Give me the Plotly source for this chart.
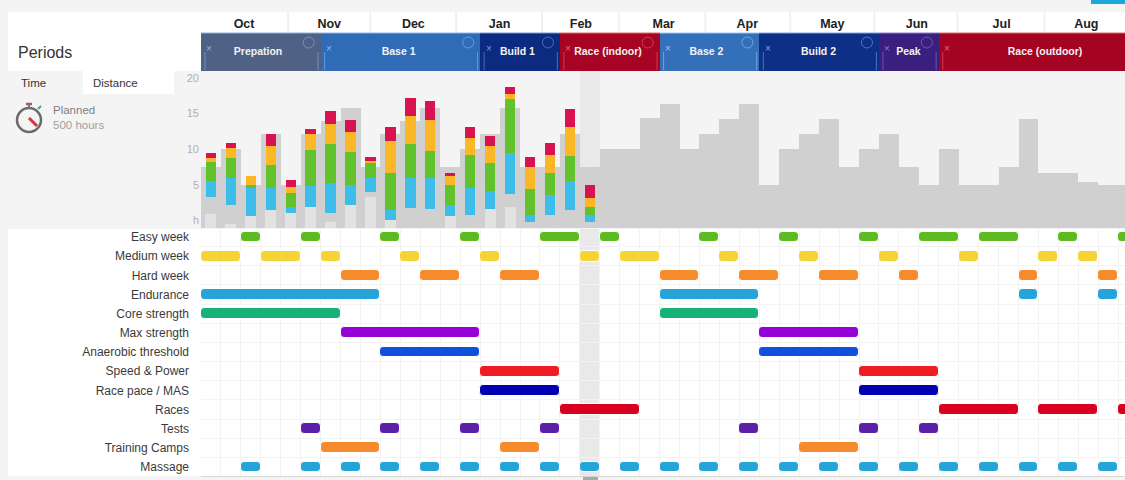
import numpy as np
import plotly.graph_objects as go

# ---------- data ----------
months = ["Oct", "Nov", "Dec", "Jan", "Feb", "Mar", "Apr", "May", "Jun", "Jul", "Aug"]
month_centers = [2.16, 6.43, 10.65, 14.97, 19.05, 23.2, 27.4, 31.66, 35.9, 40.15, 44.4]
month_breaks = [4.37, 8.49, 12.8, 17.1, 20.95, 25.3, 29.55, 33.77, 37.94, 42.3]

period_names = ["Prepation", "Base 1", "Build 1", "Race (indoor)", "Base 2", "Build 2", "Peak", "Race (outdoor)"]
period_start = [0, 6, 14, 18, 23, 28, 34, 37]
period_end = [6, 14, 18, 23, 28, 34, 37, 47.7]
period_label_x = [2.86, 9.91, 15.87, 20.41, 25.35, 30.97, 35.48, 42.33]
period_colors = ["#4f6285", "#2f6bb6", "#0c2b80", "#a60422", "#3470ba", "#0d2f85", "#3a1f7e", "#a40322"]
period_edges = ["#8fb0dc", "#8fb8e8", "#6f9ce0", "#e06a70", "#9fc4ef", "#7fa4e4", "#8a7cd0", "#e06a70"]

planned = [7.5, 10, 5, 12.2, 5, 12.2, 14, 15.8, 7.5, 12.2, 14, 15.8, 7.5, 10, 12.2, 15.8,
           7.5, 7.5, 12.2, 7.5, 10, 10, 14.4, 16.4, 10, 12.2, 14.2, 16.4, 5, 10, 12.2, 14.2,
           7.5, 10, 12.2, 7.5, 5, 10, 5, 5, 7.5, 14.2, 6.6, 6.6, 5.4, 5, 5]
undershade = [0.9, -0.5, 0.6, 1.4, 1.0, 1.9, -0.3, 2.1, 3.3, 0.0, -1.1, -1.1, 0.6, -1.1, 1.6, 1.9,
              -1.1, -1.1, -1.1, -1.1]

offset = [3.2, 2.1, 0.6, 1.4, 1.0, 1.9, 1.0, 2.1, 3.9, 0.0, 1.7, 1.6, 0.6, 0.7, 1.6, 3.7, -0.3, 0.7, 1.4, -0.3]
blue = [2.3, 3.9, 3.9, 3.1, 0.8, 2.9, 4.3, 2.9, 2.1, 1.4, 4.3, 4.4, 1.5, 3.8, 2.5, 5.8, 1.1, 2.8, 4.1, 1.1]
green = [2.7, 2.7, 0.5, 3.3, 2.0, 5.1, 5.4, 4.6, 2.1, 5.2, 4.7, 3.7, 2.8, 4.7, 3.9, 7.6, 3.6, 3.1, 3.5, 1.1]
yellow = [0.5, 1.5, 1.2, 2.6, 0.9, 2.2, 2.8, 2.8, 0.3, 4.5, 4.0, 4.4, 1.3, 2.3, 2.4, 0.6, 3.1, 2.6, 4.1, 1.2]
crimson = [0.7, 0.7, 0.0, 1.7, 0.9, 0.8, 1.8, 1.7, 0.5, 2.0, 2.5, 2.7, 0.5, 1.6, 1.5, 1.0, 1.4, 1.6, 2.6, 1.9]

rows = ["Easy week", "Medium week", "Hard week", "Endurance", "Core strength", "Max strength",
        "Anaerobic threshold", "Speed & Power", "Race pace / MAS", "Races", "Tests", "Training Camps", "Massage"]
row_colors = ["#5cbb20", "#f6d335", "#f68a2c", "#25a4da", "#14b277", "#9500d6", "#0f50dc",
              "#f01c22", "#0000b2", "#d9001f", "#5a20a8", "#f68a2c", "#25a4da"]
row_spans = [
    [(2, 3), (5, 6), (9, 10), (13, 14), (17, 19), (20, 21), (25, 26), (29, 30), (33, 34), (36, 38), (39, 41), (43, 44), (46, 47)],
    [(0, 2), (3, 5), (6, 7), (10, 11), (14, 15), (19, 20), (21, 23), (26, 27), (30, 31), (34, 35), (38, 39), (42, 43), (44, 45)],
    [(7, 9), (11, 13), (15, 17), (23, 25), (27, 29), (31, 33), (35, 36), (41, 42), (45, 46)],
    [(0, 9), (23, 28), (41, 42), (45, 46)],
    [(0, 7), (23, 28)],
    [(7, 14), (28, 33)],
    [(9, 14), (28, 33)],
    [(14, 18), (33, 37)],
    [(14, 18), (33, 37)],
    [(18, 22), (37, 41), (42, 45), (46, 47)],
    [(5, 6), (9, 10), (13, 14), (17, 18), (27, 28), (33, 34), (36, 37)],
    [(6, 9), (15, 17), (30, 33)],
    [(2, 3), (5, 6), (7, 8), (9, 10), (11, 12), (13, 14), (15, 16), (17, 18), (19, 20), (21, 22), (23, 24),
     (25, 26), (27, 28), (29, 30), (31, 32), (33, 34), (35, 36), (37, 38), (39, 40), (41, 42), (43, 44), (45, 46)],
]

y_ticks = [0, 5, 10, 15, 20]
y_tick_text = ["h", "5", "10", "15", "20"]

# ---------- helpers ----------
W, H = 1125, 480
Y_FLOOR = -1.1
X_MAX = 46.34
FONT = "Liberation Sans, Arial, sans-serif"


def px(x):
    return x / W


def py(y):
    return 1 - y / H


def rect(x0, y0, x1, y1, fill, layer="below"):
    return dict(type="rect", xref="paper", yref="paper", x0=px(x0), x1=px(x1), y0=py(y0), y1=py(y1),
                fillcolor=fill, line_width=0, layer=layer)


fig = go.Figure()

# planned load
weeks = list(range(len(planned)))
fig.add_bar(x=[w + 0.5 for w in weeks], y=[p - Y_FLOOR for p in planned], base=Y_FLOOR, width=1.0,
            marker=dict(color="#d0d0d0", line_width=0), xaxis="x2", yaxis="y2", hoverinfo="skip")

done = list(range(len(offset)))
fig.add_bar(x=[w + 0.5 for w in done], y=[s - Y_FLOOR for s in undershade], base=Y_FLOOR, width=0.55,
            marker=dict(color="#e2e2e2", line_width=0), xaxis="x2", yaxis="y2", hoverinfo="skip")

# stacked intensities
base = np.array(offset, dtype=float)
for vals, col in [(blue, "#3dbde9"), (green, "#61c22b"), (yellow, "#fcb726"), (crimson, "#d81350")]:
    fig.add_bar(x=[w + 0.5 for w in done], y=vals, base=base.tolist(), width=0.52,
                marker=dict(color=col, line_width=0), xaxis="x2", yaxis="y2")
    base = base + np.array(vals)

# periods strip
fig.add_bar(y=[0] * len(period_names), x=[e - s for s, e in zip(period_start, period_end)], base=period_start,
            orientation="h", width=1.0,
            marker=dict(color=period_colors, line_width=0), xaxis="x3", yaxis="y3")
fig.add_scatter(x=period_label_x, y=[0] * len(period_names), mode="text",
                text=["<b>%s</b>" % n for n in period_names], textposition="middle center",
                textfont=dict(color="#f2f2f2", size=10.5, family=FONT), xaxis="x3", yaxis="y3")

# gantt rows
for name, col, spans in zip(rows, row_colors, row_spans):
    fig.add_bar(y=[name] * len(spans), x=[b - a for a, b in spans], base=[a for a, b in spans],
                orientation="h", width=0.56,
                marker=dict(color=col, cornerradius=4, line=dict(color="#ffffff", width=1)),
                xaxis="x", yaxis="y")

shapes = [
    rect(8, 12, 201, 71, "#ffffff"),
    rect(201, 12, 1125, 33, "#ffffff"),
    rect(83, 71, 174, 94, "#ffffff"),
    rect(8, 229, 1125, 476, "#ffffff"),
    rect(1091, 0, 1125, 4, "#1ba6de"),
    rect(201, 476, 1125, 477, "#d6d6d6"),
    rect(583, 477, 598, 480, "#a8a8a8"),
]
# current-week highlight
for y0, y1, c in [(71, 228, "#e9e9e9"), (229, 476, "#e9e9e9")]:
    shapes.append(dict(type="rect", xref="x", yref="paper", x0=19, x1=20, y0=py(y1), y1=py(y0),
                       fillcolor=c, line_width=0, layer="below"))
# month separators
for m in month_breaks:
    shapes.append(dict(type="line", xref="x3", yref="paper", x0=m, x1=m, y0=py(33), y1=py(12),
                       line=dict(color="#f0f0f0", width=2), layer="above"))
# stopwatch icon
shapes += [
    dict(type="circle", xref="paper", yref="paper", x0=px(17), x1=px(41), y0=py(132), y1=py(108),
         line=dict(color="#6a6a6a", width=2.5), fillcolor="#f4f4f4", layer="above"),
    dict(type="line", xref="paper", yref="paper", x0=px(29), x1=px(37), y0=py(118), y1=py(126),
         line=dict(color="#d8323c", width=3), layer="above"),
    dict(type="line", xref="paper", yref="paper", x0=px(26), x1=px(32), y0=py(104), y1=py(104),
         line=dict(color="#c0505a", width=2.5), layer="above"),
    dict(type="line", xref="paper", yref="paper", x0=px(29), x1=px(29), y0=py(108), y1=py(104),
         line=dict(color="#777777", width=2), layer="above"),
    dict(type="line", xref="paper", yref="paper", x0=px(38), x1=px(41), y0=py(109), y1=py(106),
         line=dict(color="#4a9aa8", width=2), layer="above"),
]

annotations = [
    dict(text="Periods", x=px(16), y=py(53), font=dict(size=16, color="#333333")),
    dict(text="Time", x=px(19), y=py(83), font=dict(size=11.5, color="#333333")),
    dict(text="Distance", x=px(91), y=py(83), font=dict(size=11.5, color="#333333")),
    dict(text="Planned", x=px(51), y=py(110), font=dict(size=11.5, color="#808080")),
    dict(text="500 hours", x=px(51), y=py(125), font=dict(size=11.5, color="#a0a0a0")),
]
for a in annotations:
    a.update(xref="paper", yref="paper", xanchor="left", yanchor="middle", showarrow=False)

# period decorations: close mark, circle, end ticks, top edge
week_px = (W - 201) / X_MAX
for s, e, col, edge in zip(period_start, period_end, period_colors, period_edges):
    annotations.append(dict(text="×", xref="x3", yref="paper", x=s + 0.42, y=py(41), showarrow=False,
                            font=dict(size=10, color=edge)))
    shapes.append(dict(type="line", xref="x3", yref="paper", x0=s, x1=min(e, X_MAX), y0=py(33), y1=py(33),
                       line=dict(color=edge, width=1), layer="above"))
    if e < X_MAX:
        cx = e - 0.6
        shapes.append(dict(type="circle", xref="x3", yref="paper", x0=cx - 5.5 / week_px, x1=cx + 5.5 / week_px,
                           y0=py(48), y1=py(37), line=dict(color=edge, width=0.6), layer="above"))
        shapes.append(dict(type="line", xref="x3", yref="paper", x0=e - 0.13, x1=e - 0.13, y0=py(70), y1=py(52),
                           line=dict(color=edge, width=0.6), layer="above"))
    shapes.append(dict(type="line", xref="x3", yref="paper", x0=s + 0.2, x1=s + 0.2, y0=py(70), y1=py(52),
                       line=dict(color=edge, width=0.6), layer="above"))

x_domain = [201 / W, 1]
fig.update_layout(
    width=W, height=H, autosize=False, margin=dict(l=0, r=0, t=0, b=0),
    paper_bgcolor="#f4f4f4", plot_bgcolor="rgba(0,0,0,0)",
    barmode="overlay", showlegend=False, bargap=0,
    font=dict(family=FONT),
    shapes=shapes, annotations=annotations,
    xaxis=dict(domain=x_domain, range=[0, X_MAX], anchor="y", showgrid=True, gridcolor="#f3f3f3",
               tick0=0, dtick=1, showticklabels=False, zeroline=False, ticks="", layer="below traces"),
    yaxis=dict(domain=[py(476), py(229)], type="category", categoryorder="array", categoryarray=rows,
               range=[12.47, -0.417], tickson="boundaries", showgrid=True, gridcolor="#f3f3f3",
               ticks="", ticklabelstandoff=11, zeroline=False, anchor="x",
               tickfont=dict(size=12, color="#3a3a3a", family=FONT)),
    xaxis2=dict(domain=x_domain, range=[0, X_MAX], anchor="y2", showgrid=False, showticklabels=False,
                zeroline=False, ticks=""),
    yaxis2=dict(domain=[py(228), py(71)], range=[Y_FLOOR, 21], anchor="x2", tickvals=y_ticks, ticktext=y_tick_text,
                showgrid=False, zeroline=False, ticks="", ticklabelstandoff=1,
                tickfont=dict(size=11, color="#b0b0b0", family=FONT)),
    xaxis3=dict(domain=x_domain, range=[0, X_MAX], anchor="y3", side="top", tickvals=month_centers,
                ticktext=["<b>%s</b>" % m for m in months],
                showgrid=False, zeroline=False, ticks="", ticklabelstandoff=2,
                tickfont=dict(size=12.5, color="#222222", family=FONT)),
    yaxis3=dict(domain=[py(71), py(33)], range=[-0.5, 0.5], anchor="x3", showticklabels=False, showgrid=False,
                zeroline=False, ticks=""),
)

fig.write_html("out.html", config=dict(displayModeBar=False),
               post_script="document.body.style.margin='0';document.documentElement.style.overflow='hidden';")
